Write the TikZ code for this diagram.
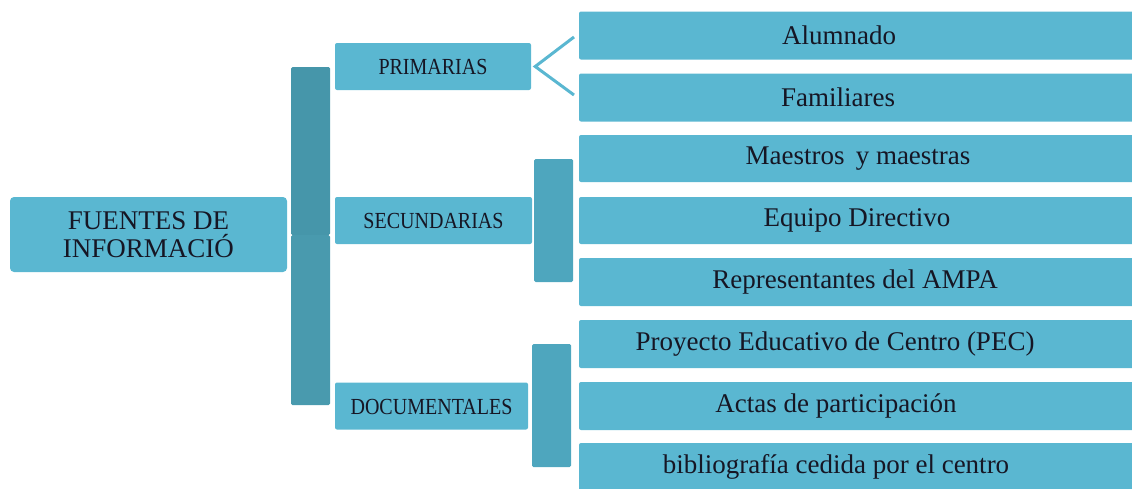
\documentclass[tikz,border=0pt]{standalone}
\usepackage{fontspec}
\setmainfont{Liberation Serif}
\newfontfamily\condfont[FakeStretch=0.87]{Liberation Serif}
\definecolor{boxfill}{RGB}{90,183,209}
\definecolor{barA}{RGB}{70,150,170}
\definecolor{barB}{RGB}{73,154,174}
\definecolor{barC}{RGB}{78,166,190}
\definecolor{txt}{RGB}{22,22,36}
\tikzset{
  base/.style={draw=none, fill=boxfill, rounded corners=2pt, inner sep=0pt, anchor=center},
  rootbox/.style={base, rounded corners=4pt, minimum width=277pt, minimum height=75pt},
  midbox/.style={base, minimum height=47pt},
  leafbox/.style={base, minimum width=560pt, minimum height=48pt},
  bar/.style={draw=none, rounded corners=1.5pt, inner sep=0pt, minimum width=39pt},
  leaftext/.style={inner sep=0pt, text=txt, font=\fontsize{27}{28}\selectfont},
  midtext/.style={inner sep=0pt, text=txt, font=\condfont\fontsize{23}{24}\selectfont},
  roottext/.style={inner sep=0pt, text=txt, align=center, font=\fontsize{27}{28}\selectfont},
  chev/.style={draw=boxfill, line width=3pt}
}
\begin{document}
\begin{tikzpicture}[x=1pt,y=-1pt]
\useasboundingbox (0,0) rectangle (1132,488);
\clip (0,0) rectangle (1132,488);
% root
\node[rootbox] (root) at (148.5,234.5) {};
\node[roottext] (rootT) at (148.5,235) {FUENTES DE\\INFORMACIÓ};
% main bracket
\node[bar, fill=barA, minimum height=168pt] (barTop) at (310.5,151) {};
\node[bar, fill=barB, minimum height=170pt] (barBot) at (310.5,320) {};
% middle boxes
\node[midbox, minimum width=196pt] (prim) at (433,66.5) {};
\node[midtext] (primT) at (433,67) {PRIMARIAS};
\node[midbox, minimum width=197pt] (sec) at (433.5,220.5) {};
\node[midtext] (secT) at (433.5,221) {SECUNDARIAS};
\node[midbox, minimum width=193pt] (doc) at (431.5,406) {};
\node[midtext] (docT) at (431.5,406.5) {DOCUMENTALES};
% secondary brackets
\node[bar, fill=barC, minimum height=123pt] (secBar) at (553.5,220.5) {};
\node[bar, fill=barC, minimum height=123pt] (docBar) at (551.5,405.5) {};
% leaves
\node[leafbox] (l1) at (859,35.5) {};
\node[leaftext] (t1) at (839,35.5) {Alumnado};
\node[leafbox] (l2) at (859,97.5) {};
\node[leaftext] (t2) at (838,97.5) {Familiares};
\node[leafbox, minimum height=47pt] (l3) at (859,158.5) {};
\node[leaftext] (t3) at (858,158.5) {Maestros\, y maestras};
\node[leafbox, minimum height=47pt] (l4) at (859,220.5) {};
\node[leaftext] (t4) at (857,220.5) {Equipo Directivo};
\node[leafbox] (l5) at (859,282) {};
\node[leaftext] (t5) at (855,282) {Representantes del AMPA};
\node[leafbox] (l6) at (859,344) {};
\node[leaftext] (t6) at (835,344) {Proyecto Educativo de Centro (PEC)};
\node[leafbox] (l7) at (859,406) {};
\node[leaftext] (t7) at (836,406) {Actas de participación};
\node[leafbox] (l8) at (859,467) {};
\node[leaftext] (t8) at (836,467) {bibliografía cedida por el centro};
% chevron from PRIMARIAS
\coordinate (chTop) at (574,37);
\coordinate (chBot) at (574,95);
\draw[chev] (chTop) -- ([xshift=4pt]prim.east) -- (chBot);
\end{tikzpicture}
\end{document}
